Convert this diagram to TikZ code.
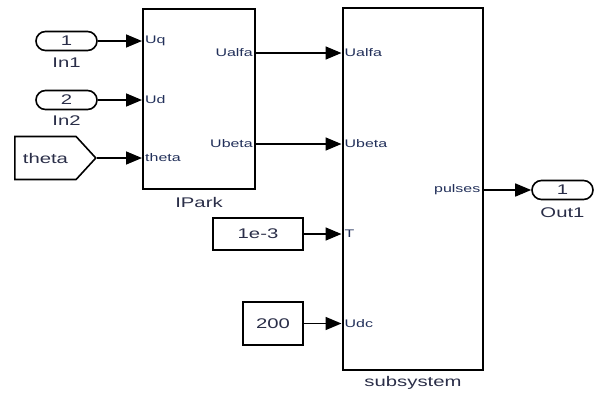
\documentclass[tikz,border=0pt]{standalone}
\usepackage{fontspec}
\setsansfont{Liberation Sans}[FakeStretch=1.45]
\usepackage{tikz}
\usetikzlibrary{shapes.misc, shapes.symbols, arrows.meta, positioning, calc}
\definecolor{portink}{HTML}{22305A}
\definecolor{blockink}{HTML}{2A2E48}
\tikzset{
  arr/.style={-{Triangle[length=16pt, width=13pt]}, line width=1.6pt, black},
  sblock/.style={rectangle, draw=black, fill=white, line width=2pt},
  inport/.style={rounded rectangle, draw=black, line width=1.6pt, minimum width=61pt, minimum height=19pt, inner sep=0pt, font=\sffamily\fontsize{14}{16}\selectfont, text=blockink},
  blabel/.style={font=\sffamily\fontsize{14}{16}\selectfont, text=blockink, inner sep=0pt},
  plabel/.style={font=\sffamily\fontsize{11}{13}\selectfont, text=portink, inner sep=3pt},
}
\begin{document}
\begin{tikzpicture}[x=1pt, y=-1pt,
    cblock/.style={sblock, inner sep=0pt, font=\sffamily\fontsize{14}{16}\selectfont, text=blockink}]
  \useasboundingbox (0,0) rectangle (603,394);

  % Sources
  \node[inport] (in1) at (66.5,41) {1};
  \node[blabel] (in1lbl) at (66.5,63) {In1};
  \node[inport] (in2) at (66.5,100) {2};
  \node[blabel] (in2lbl) at (66.5,121) {In2};
  \node[signal, signal to=east, signal pointer angle=95, draw=black, line width=1.6pt,
        minimum width=81pt, minimum height=43pt, inner sep=0pt, blabel, anchor=west] (theta) at (14,158) {theta\hspace{20pt}};
  \node[cblock, minimum width=90pt, minimum height=32pt] (tconst) at (258,234) {1e-3};
  \node[cblock, minimum width=60pt, minimum height=43pt] (udcconst) at (273,323.5) {200};

  % Blocks
  \node[sblock, minimum width=112pt, minimum height=180pt] (ipark) at (199,99) {};
  \node[blabel] (iparklbl) at (199,202) {IPark};
  \node[sblock, minimum width=140pt, minimum height=362pt] (subsys) at (412.5,189) {};
  \node[blabel] (subsyslbl) at (413,383) {subsystem};
  \node[inport] (out1) at (562.5,190) {1};
  \node[blabel] (out1lbl) at (562.5,213) {Out1};

  % Port labels
  \node[plabel, anchor=west] (uq) at (ipark.west |- 0,41) {Uq};
  \node[plabel, anchor=west] (ud) at (ipark.west |- 0,100) {Ud};
  \node[plabel, anchor=west] (th) at (ipark.west |- 0,158) {theta};
  \node[plabel, anchor=east] (ualfao) at (ipark.east |- 0,53) {Ualfa};
  \node[plabel, anchor=east] (ubetao) at (ipark.east |- 0,144) {Ubeta};
  \node[plabel, anchor=west] (ualfai) at (subsys.west |- 0,53) {Ualfa};
  \node[plabel, anchor=west] (ubetai) at (subsys.west |- 0,144) {Ubeta};
  \node[plabel, anchor=west] (tin) at (subsys.west |- 0,234) {T};
  \node[plabel, anchor=west] (udcin) at (subsys.west |- 0,323.5) {Udc};
  \node[plabel, anchor=east] (pulses) at (subsys.east |- 0,190) {pulses};

  % Signals
  \draw[arr] (in1.east) -- (uq.west);
  \draw[arr] (in2.east) -- (ud.west);
  \draw[arr] (theta.east) -- (th.west);
  \draw[arr] (ualfao.east) -- (ualfai.west);
  \draw[arr] (ubetao.east) -- (ubetai.west);
  \draw[arr] (tconst.east) -- (tin.west);
  \draw[arr] (udcconst.east) -- (udcin.west);
  \draw[arr] (pulses.east) -- (out1.west);
\end{tikzpicture}
\end{document}
